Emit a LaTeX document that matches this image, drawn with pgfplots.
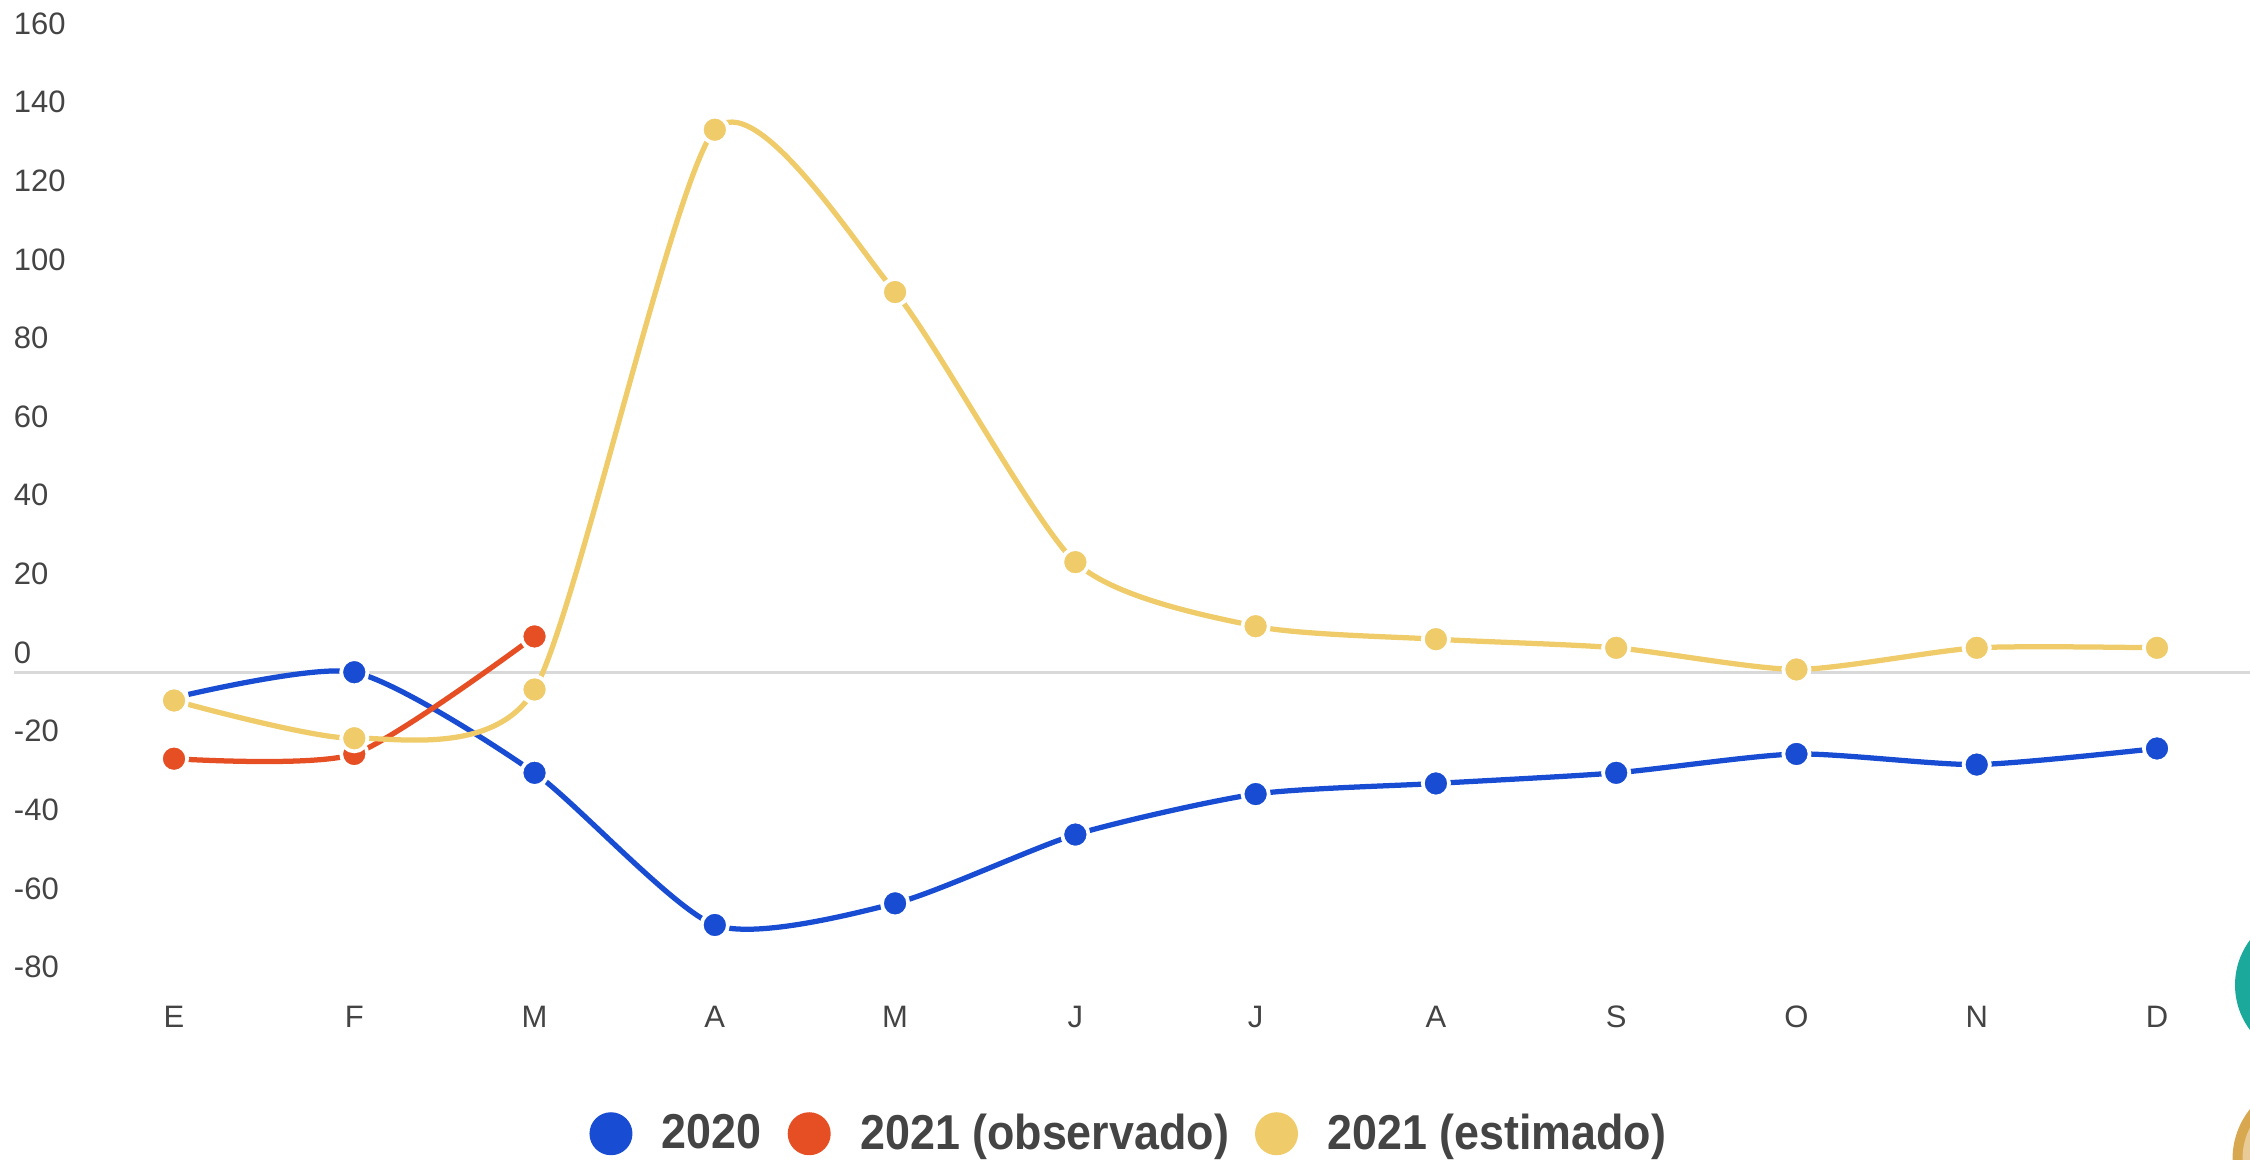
\documentclass[border=0pt]{standalone}
\usepackage{pgfplots}
\pgfplotsset{compat=1.18}
\usepackage{fontspec}
\setmainfont{Liberation Sans}
\newfontfamily\legendfont[FakeStretch=0.915]{Liberation Sans}
\definecolor{cblue}{HTML}{174CD3}
\definecolor{cred}{HTML}{E64E24}
\definecolor{cyellow}{HTML}{EFCB69}
\definecolor{ctext}{HTML}{444444}
\definecolor{cteal}{HTML}{1BA99B}
\definecolor{cgold}{HTML}{D8A850}

\pgfplotsset{
  serie/.style={color=#1,line width=2.1pt,smooth,tension=0.4,
    mark=*,mark size=5.25pt,mark options={fill=#1,draw=white,line width=1.5pt,solid}},
}

\begin{document}
\begin{tikzpicture}[x=1pt,y=1pt]
\path[use as bounding box] (0,0) rectangle (900,463.6);

\begin{scope}
\clip (0,0) rectangle (900,463.6);
\fill[cteal] (924,69.6) circle (30);
\fill[cgold] (925,0) circle (32);
\fill[cgold!60] (925,0) circle (28);
\end{scope}

\begin{axis}[
  at={(5.6pt,53.2pt)},
  anchor=south west,
  width=894.4pt,
  height=410.4pt,
  scale only axis,
  xmin=-0.8876,
  xmax=11.516,
  ymin=-90,
  ymax=171,
  axis line style={draw=none},
  major tick length=0pt,
  xtick={0,1,2,3,4,5,6,7,8,9,10,11},
  xticklabels={E,F,M,A,M,J,J,A,S,O,N,D},
  ytick={-80,-60,-40,-20,0,20,40,60,80,100,120,140,160},
  /pgf/number format/assume math mode=true,
  tick label style={font=\fontsize{12.4}{14}\selectfont,text=ctext,inner sep=0pt,outer sep=0pt},
  xticklabel style={anchor=base,yshift=-0.4pt},
  yticklabel style={anchor=base west,yshift=3.6pt},
  extra y ticks={0},
  extra y tick labels={},
  extra y tick style={grid=major,major grid style={color=black!15,line width=1.2pt}},
  clip=false,
  legend columns=3,
  legend cell align=left,
  legend style={
    at={(0.4993,-0.105)},anchor=center,draw=none,fill=none,
    font=\fontsize{19.6}{22}\legendfont\bfseries,text=ctext,
    /tikz/every odd column/.append style={column sep=9.8pt},
    /tikz/every even column/.append style={column sep=8.4pt},
  },
  legend image code/.code={\fill[#1,draw=none] (0pt,0pt) circle (8.6pt);},
]
\addplot[serie=cblue] coordinates {
(0,-6.5) (1,0) (2,-25.6) (3,-64.3) (4,-58.8) (5,-41.3) (6,-31) (7,-28.3) (8,-25.6) (9,-20.8) (10,-23.5) (11,-19.4)
};
\addlegendentry{2020\hspace{3pt}}
\addplot[serie=cred] coordinates {
(0,-22) (1,-20.8) (2,9.1)
};
\addlegendentry{2021 (observado)}
\addplot[serie=cyellow] coordinates {
(0,-7.2) (1,-16.8) (2,-4.4) (3,138) (4,96.7) (5,28) (6,11.7) (7,8.4) (8,6.2) (9,0.7) (10,6.2) (11,6.2)
};
\addlegendentry{2021 (estimado)}
\end{axis}
\end{tikzpicture}
\end{document}
